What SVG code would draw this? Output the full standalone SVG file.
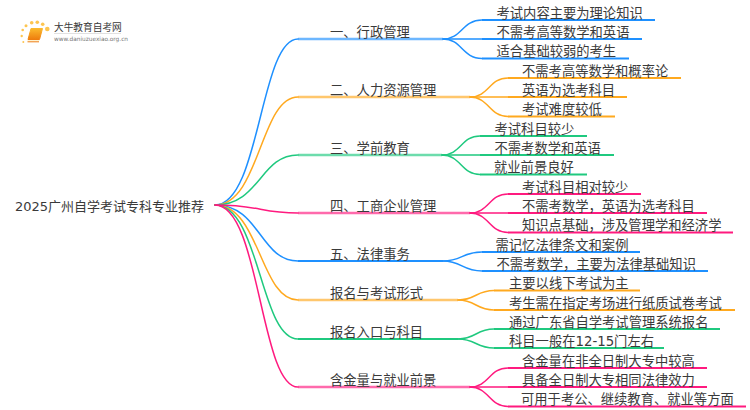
<svg xmlns="http://www.w3.org/2000/svg" width="750" height="410" viewBox="0 0 750 410">
<defs>
<linearGradient id="bk" x1="0" y1="0" x2="0" y2="1"><stop offset="0" stop-color="#fbb92c"/><stop offset="1" stop-color="#ee7d0e"/></linearGradient>
</defs>
<style>
text{font-family:"DejaVu Sans","Noto Sans CJK SC",sans-serif;font-size:13.3px;fill:#3a3a3a}
.c{fill:none;stroke-width:1.5;stroke-linecap:round}
.u{fill:none;stroke-width:1.8}
.t{stroke-opacity:.65;stroke-width:2.5}
.b{stroke:#1e90ff}.o{stroke:#ffa91f}.g{stroke:#1fc97f}.p{stroke:#ff1a7f}
.d{fill:#fdc550}
</style>
<rect width="750" height="410" fill="#fff"/>
<g id="connectors">
<g class="c b"><path d="M215 205C260 205 260 39 298 39"/><path d="M215 205C260 205 260 261 298 261"/>
<path d="M443 39C462 39 462 20 482 20"/><path d="M443 39H482"/><path d="M443 39C462 39 462 58.500 482 58.500"/>
<path d="M443 261C462 261 462 252 482 252"/><path d="M443 261C462 261 462 271 482 271"/></g>
<g class="c o"><path d="M215 205C260 205 260 97 298 97"/><path d="M215 205C260 205 260 300 298 300"/>
<path d="M470 97C489 97 489 78 508 78"/><path d="M470 97H508"/><path d="M470 97C489 97 489 116.500 508 116.500"/>
<path d="M458 300C476 300 476 290.500 494 290.500"/><path d="M458 300C476 300 476 310 494 310"/></g>
<g class="c g"><path d="M215 205C260 205 260 155 298 155"/><path d="M215 205C260 205 260 339 298 339"/>
<path d="M442 155C461 155 461 136 480 136"/><path d="M442 155H480"/><path d="M442 155C461 155 461 174.500 480 174.500"/>
<path d="M458 339C476 339 476 329 494 329"/><path d="M458 339C476 339 476 348 494 348"/></g>
<g class="c p"><path d="M215 205C260 205 260 213 298 213"/><path d="M215 205C260 205 260 387 298 387"/>
<path d="M470 213C489 213 489 194 508 194"/><path d="M470 213H508"/><path d="M470 213C489 213 489 232.500 508 232.500"/>
<path d="M470 387C489 387 489 368 508 368"/><path d="M470 387H508"/><path d="M470 387C489 387 489 406.500 508 406.500"/></g>
<g class="u b"><path class="t" d="M298 39H443"/><path d="M298 261H443"/>
<path d="M482 20H655"/><path d="M482 39H642"/><path d="M482 58.500H629"/><path d="M482 252H640"/><path d="M482 271H708"/></g>
<g class="u o"><path class="t" d="M298 97H470"/><path class="t" d="M298 300H458"/>
<path d="M508 78H681"/><path d="M508 97H627"/><path d="M508 116.500H615"/><path d="M494 290.500H640"/><path d="M494 310H735"/></g>
<g class="u g"><path class="t" d="M298 155H442"/><path d="M298 339H458"/>
<path d="M480 136H587"/><path d="M480 155H614"/><path d="M480 174.500H587"/><path d="M494 329H720"/><path d="M494 348H664"/></g>
<g class="u p"><path class="t" d="M298 213H470"/><path class="t" d="M298 387H470"/>
<path d="M508 194H641"/><path d="M508 213H707"/><path d="M508 232.500H733"/><path d="M508 368H707"/><path d="M508 387H707"/><path d="M508 406.500H746"/></g>
</g>
<g id="logo">
<circle class="d" cx="47.300" cy="29" r="2.300"/><circle class="d" cx="42.700" cy="24.300" r="1.800"/><circle class="d" cx="37.300" cy="22.300" r="1.800"/><circle class="d" cx="31.700" cy="22.700" r="1.800"/><circle class="d" cx="26" cy="25.700" r="1.500"/><circle class="d" cx="22.700" cy="30" r="1.300"/><circle class="d" cx="21.700" cy="36" r="1.200"/><circle class="d" cx="23.300" cy="42" r="1"/>
<path d="M31 28.500H42.500L39.500 39.500H28Z" fill="url(#bk)" stroke="url(#bk)" stroke-linejoin="round"/>
<path d="M27.500 40.500H39.500" stroke="#fff3d0" stroke-width="1"/>
<path d="M27.500 41.800H39" stroke="#ee7d0e" stroke-width="1"/>
<text x="54" y="31" style="font-size:9.700px">大牛教育自考网</text>
<path d="M54 33.500H121" stroke="#ccc" stroke-width=".6"/>
<text x="54" y="40.500" style="font-size:5.800px;fill:#777">www.daniuzuexiao.org.cn</text>
</g>
<g id="root"><text x="15" y="210.500" style="font-size:13px">2025广州自学考试专科专业推荐</text></g>
<g id="n1"><text x="330" y="36.500">一、行政管理</text></g>
<g id="n1a"><text x="496.500" y="17.500">考试内容主要为理论知识</text></g>
<g id="n1b"><text x="496.500" y="36.500">不需考高等数学和英语</text></g>
<g id="n1c"><text x="496.500" y="56">适合基础较弱的考生</text></g>
<g id="n2"><text x="330" y="94.500">二、人力资源管理</text></g>
<g id="n2a"><text x="522" y="75.500">不需考高等数学和概率论</text></g>
<g id="n2b"><text x="522" y="94.500">英语为选考科目</text></g>
<g id="n2c"><text x="522" y="114">考试难度较低</text></g>
<g id="n3"><text x="330" y="152.500">三、学前教育</text></g>
<g id="n3a"><text x="494.500" y="133.500">考试科目较少</text></g>
<g id="n3b"><text x="494.500" y="152.500">不需考数学和英语</text></g>
<g id="n3c"><text x="494" y="172">就业前景良好</text></g>
<g id="n4"><text x="330" y="210.500">四、工商企业管理</text></g>
<g id="n4a"><text x="522" y="191.500">考试科目相对较少</text></g>
<g id="n4b"><text x="522" y="210.500">不需考数学，英语为选考科目</text></g>
<g id="n4c"><text x="522" y="230">知识点基础，涉及管理学和经济学</text></g>
<g id="n5"><text x="330" y="258.500">五、法律事务</text></g>
<g id="n5a"><text x="495.500" y="249.500">需记忆法律条文和案例</text></g>
<g id="n5b"><text x="496.500" y="268.500">不需考数学，主要为法律基础知识</text></g>
<g id="n6"><text x="330" y="297.500">报名与考试形式</text></g>
<g id="n6a"><text x="509" y="288">主要以线下考试为主</text></g>
<g id="n6b"><text x="509" y="307.500">考生需在指定考场进行纸质试卷考试</text></g>
<g id="n7"><text x="330" y="336.500">报名入口与科目</text></g>
<g id="n7a"><text x="509" y="326.500">通过广东省自学考试管理系统报名</text></g>
<g id="n7b"><text x="509" y="345.500">科目一般在12-15门左右</text></g>
<g id="n8"><text x="330" y="384.500">含金量与就业前景</text></g>
<g id="n8a"><text x="522" y="365.500">含金量在非全日制大专中较高</text></g>
<g id="n8b"><text x="522" y="384.500">具备全日制大专相同法律效力</text></g>
<g id="n8c"><text x="521" y="404">可用于考公、继续教育、就业等方面</text></g>
</svg>
